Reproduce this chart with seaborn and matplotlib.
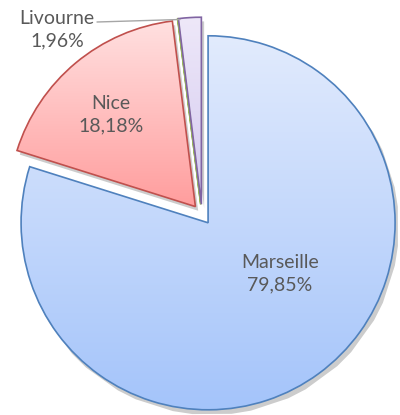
import numpy as np
import seaborn as sns
import matplotlib.pyplot as plt
from matplotlib.colors import LinearSegmentedColormap
import matplotlib.patheffects as pe

# data
cities = ["Marseille", "Nice", "", "Livourne"]
shares = [79.85, 18.18, 0.01, 1.96]
labels = ["Marseille\n79,85%", "Nice\n18,18%", "", "Livourne\n1,96%"]

edge_colors = ["#4f81bd", "#c0504d", "#9bbb59", "#8064a2"]
grad_top = ["#e2ebfd", "#ffe0e0", "#eef4e0", "#eee8f9"]
grad_bottom = ["#a4c4fa", "#ff9d9d", "#c8dca0", "#d4caef"]

sns.set_style("white")
plt.rcParams['font.family'] = ['Lato', 'DejaVu Sans']

fig = plt.figure(figsize=(4.0, 4.15), dpi=100)
ax = fig.add_axes([0, 0, 1, 1])

R = 187.0
cx, cy = 202.0, 214.5

wedges, _ = ax.pie(shares, startangle=90, counterclock=False,
                   explode=[0.055] * 4, radius=1.0,
                   wedgeprops=dict(linewidth=1.2))

for w, ec, c0, c1 in zip(wedges, edge_colors, grad_top, grad_bottom):
    w.set_facecolor("none")
    w.set_edgecolor(ec)
    w.set_zorder(3)
    bb = w.get_path().get_extents()
    cmap = LinearSegmentedColormap.from_list("g", [c1, c0])
    grad = np.linspace(0, 1, 256).reshape(-1, 1)
    # soft shadow under the slice
    sh = plt.Polygon(w.get_path().vertices, closed=True, facecolor="#000000",
                     edgecolor="none", alpha=0.0, zorder=1)
    ax.add_patch(sh)
    sh.set_path_effects([pe.SimplePatchShadow(offset=(2, -3), shadow_rgbFace="#000000", alpha=0.2)])
    im = ax.imshow(grad, cmap=cmap, origin="lower", aspect="auto",
                   extent=[bb.x0, bb.x1, bb.y0, bb.y1], zorder=2,
                   interpolation="bicubic")
    im.set_clip_path(w)

txt = "#595959"
ax.text((280 - cx) / R, (cy - 274) / R, labels[0], ha="center", va="center",
        fontsize=14, color=txt, linespacing=1.4)
ax.text((111 - cx) / R, (cy - 115) / R, labels[1], ha="center", va="center",
        fontsize=14, color=txt, linespacing=1.4)
ax.text((57 - cx) / R, (cy - 30) / R, labels[3], ha="center", va="center",
        fontsize=14, color=txt, linespacing=1.4)
ax.plot([(97 - cx) / R, (180 - cx) / R], [(cy - 22) / R, (cy - 19.5) / R],
        color="#a6a6a6", linewidth=1, zorder=4)

ax.set_xlim(-cx / R, (400 - cx) / R)
ax.set_ylim(-(415 - cy) / R, cy / R)
ax.set_aspect("equal")
ax.axis("off")

fig.savefig("out.png", dpi=100)
